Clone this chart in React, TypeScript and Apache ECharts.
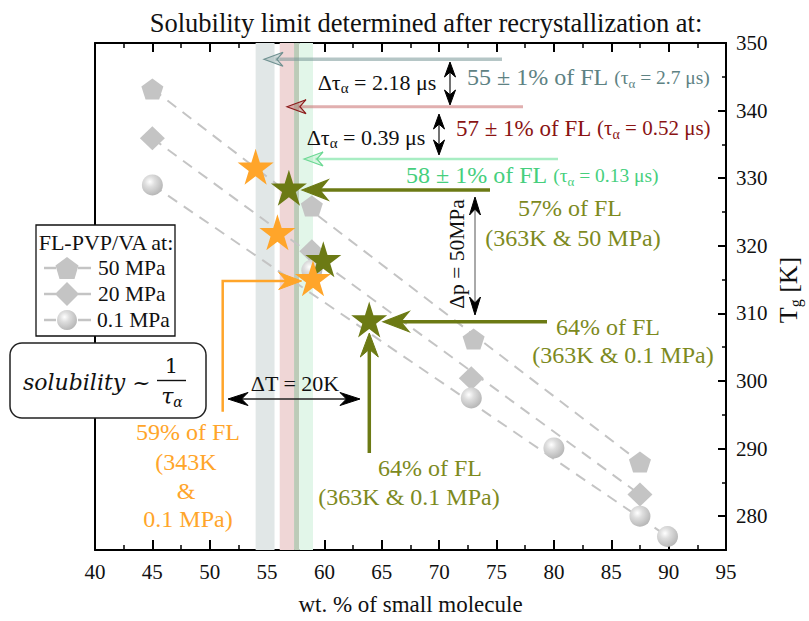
import React, { useEffect, useRef } from 'react';
import * as echarts from 'echarts';

const FONT = 'Liberation Serif, Times New Roman, serif';
const MATH = 'DejaVu Serif, serif';

// ---- data ----
const mpa50 = [[45, 343.2], [58.9, 325.9], [73, 306.2], [87.5, 288.0]];
const mpa20 = [[45, 335.9], [58.9, 319.2], [72.8, 300.4], [87.5, 283.2]];
const mpa01 = [[45, 329.0], [58.9, 316.4], [72.8, 297.5], [80, 290.1], [87.5, 280.0], [89.9, 277.0]];
const fit50 = [[45, 343.2], [87.5, 288.0]];
const fit20 = [[45, 335.9], [87.5, 283.2]];
const fit01 = [[45, 329.0], [89.9, 277.0]];
const orangeStars = [[54.0, 331.7], [55.9, 322.0], [59.0, 315.2]];
const oliveStars = [[56.9, 328.6], [59.9, 318.0], [63.9, 309.1]];
const bandRanges = [[54.0, 55.65], [56.1, 57.35], [57.35, 57.8], [57.8, 59.0]];
const yMajor = [280, 290, 300, 310, 320, 330, 340, 350];
const yMinor = [285, 295, 305, 315, 325, 335, 345];

const bandColors = ['#e1e7e7', '#efd6d6', '#bccbb8', '#e2f6e9'];
const GRAY = '#c4c4c4';
const OLIVE = '#6c7a14';
const OLIVE_T = '#7d8a1e';
const ORANGE = '#ffa52a';

const STAR = 'path://M50,0L61.2,34.5L97.6,34.5L68.2,55.9L79.4,90.5L50,69.1L20.6,90.5L31.8,55.9L2.4,34.5L38.8,34.5Z';
const PENT = 'path://M50,0L100,38L81,100L19,100L0,38Z';
const sphere = (cx = 0.38, cy = 0.35) => ({
  type: 'radial', x: cx, y: cy, r: 0.7,
  colorStops: [
    { offset: 0, color: '#ffffff' },
    { offset: 0.35, color: '#dedede' },
    { offset: 1, color: '#b4b4b4' },
  ],
});

// ---- graphic helpers ----
const Z = 100;
const ln = (x1, y1, x2, y2, stroke, lineWidth) => ({
  type: 'line', z: Z, silent: true, shape: { x1, y1, x2, y2 }, style: { stroke, lineWidth },
});
const head = (tx, ty, dx, dy, L, W, fill, stroke?, lw = 1) => {
  const bx = -dx, by = -dy, px = -dy, py = dx;
  return {
    type: 'polygon', z: Z + 1, silent: true,
    shape: {
      points: [
        [tx, ty],
        [tx + bx * L + (px * W) / 2, ty + by * L + (py * W) / 2],
        [tx + bx * L * 0.68, ty + by * L * 0.68],
        [tx + bx * L - (px * W) / 2, ty + by * L - (py * W) / 2],
      ],
    },
    style: { fill, stroke: stroke || fill, lineWidth: lw },
  };
};
const txt = (x, y, text, fill, size, align = 'center', rotation = 0) => ({
  type: 'text', z: Z + 2, silent: true, x, y, rotation,
  style: { text, fill, font: `${size}px ${FONT}`, align, verticalAlign: 'middle' },
});
const richTxt = (x, y, text, rich, align = 'center', rotation = 0) => ({
  type: 'text', z: Z + 2, silent: true, x, y, rotation,
  style: { text, rich, align, verticalAlign: 'middle' },
});
const tok = (size, fill, lh = 26) => ({ fontSize: size, fontFamily: FONT, fill, lineHeight: lh });
const sub = (size, fill) => ({ fontSize: size, fontFamily: FONT, fill, lineHeight: size, verticalAlign: 'bottom' });

const horizArrowLeft = (tipX, y, tailX, color, w, L, W, hfill, hstroke?) => [
  ln(tipX + L * 0.6, y, tailX, y, color, w),
  head(tipX, y, -1, 0, L, W, hfill, hstroke, 1.2),
];
const doubleV = (x, y1, y2, stem, sw, L, W) => [
  ln(x, y1 + L * 0.6, x, y2 - L * 0.6, stem, sw),
  head(x, y1, 0, -1, L, W, '#000'),
  head(x, y2, 0, 1, L, W, '#000'),
];

function buildGraphic() {
  const g: any[] = [];
  const black = '#111';
  // title
  g.push(txt(426, 23, 'Solubility limit determined after recrystallization at:', black, 26.5));
  // y axis name
  g.push(richTxt(788, 290, '{a|T}{b|g}{a| [K]}', { a: tok(26, black, 30), b: sub(16, black) }, 'center', Math.PI / 2));

  // top arrows
  g.push(...horizArrowLeft(264, 59.3, 502, 'rgba(120,152,152,0.55)', 3.5, 19, 14, 'rgba(150,176,176,0.45)', '#6f9090'));
  g.push(...horizArrowLeft(287, 106.7, 523, 'rgba(200,110,110,0.55)', 3, 19, 14, 'rgba(180,80,80,0.35)', '#8b1a1a'));
  g.push(...horizArrowLeft(304, 159, 558, 'rgba(110,225,155,0.6)', 2.5, 19, 14, 'rgba(140,230,170,0.35)', '#6bd893'));
  // olive arrows
  g.push(...horizArrowLeft(302, 190, 490, OLIVE, 3.5, 26, 20, OLIVE));
  g.push(...horizArrowLeft(383, 321.7, 547, OLIVE, 3.5, 26, 20, OLIVE));
  g.push(ln(369.3, 333 + 14, 369.3, 453, OLIVE, 3.5), head(369.3, 333, 0, -1, 24, 18, OLIVE));
  // orange arrow
  g.push({
    type: 'polyline', z: Z, silent: true,
    shape: { points: [[222.7, 411.7], [222.7, 281], [290, 281]] },
    style: { stroke: ORANGE, lineWidth: 2.5, fill: null },
  });
  g.push(head(301.7, 281, 1, 0, 23, 17, ORANGE));
  // ΔT arrow
  g.push(ln(240, 399, 348, 399, '#222', 1.5), head(228, 399, -1, 0, 20, 13, '#000'), head(360, 399, 1, 0, 20, 13, '#000'));
  // Δp arrow
  g.push(...doubleV(475, 197, 315, '#555', 1, 18, 11));
  // Δτ arrows
  g.push(...doubleV(450, 62, 105, '#444', 1.5, 15, 11));
  g.push(...doubleV(439, 114, 155, '#444', 1.5, 15, 11));

  // annotation texts
  g.push(richTxt(377, 82, '{t|Δτ}{s|α}{t| = 2.18 μs}', { t: tok(22, black), s: sub(15, black) }));
  g.push(richTxt(366, 137, '{t|Δτ}{s|α}{t| = 0.39 μs}', { t: tok(22, black), s: sub(15, black) }));
  const TEAL = '#5e8283', RED = '#8a1313', GREEN = '#46cf7d';
  g.push(richTxt(467, 77, '{m|55 ± 1% of FL }{p|(τ}{s|α}{p| = 2.7 μs)}', { m: tok(24, TEAL), p: tok(19.5, TEAL), s: sub(13, TEAL) }, 'left'));
  g.push(richTxt(456, 128, '{m|57 ± 1% of FL }{p|(τ}{s|α}{p| = 0.52 μs)}', { m: tok(23, RED), p: tok(21, RED), s: sub(14, RED) }, 'left'));
  g.push(richTxt(406, 175, '{m|58 ± 1% of FL }{p|(τ}{s|α}{p| = 0.13 μs)}', { m: tok(24, GREEN), p: tok(19.5, GREEN), s: sub(13, GREEN) }, 'left'));

  g.push(txt(570, 208, '57% of FL', OLIVE_T, 24));
  g.push(txt(573, 238, '(363K & 50 MPa)', OLIVE_T, 24));
  g.push(txt(608, 327, '64% of FL', OLIVE_T, 24));
  g.push(txt(623, 355, '(363K & 0.1 MPa)', OLIVE_T, 24));
  g.push(txt(430, 468, '64% of FL', OLIVE_T, 24));
  g.push(txt(409, 497, '(363K & 0.1 MPa)', OLIVE_T, 24));
  g.push(txt(188, 432, '59% of FL', ORANGE, 24));
  g.push(txt(186, 462, '(343K', ORANGE, 24));
  g.push(txt(186, 491, '&', ORANGE, 24));
  g.push(txt(188, 519, '0.1 MPa)', ORANGE, 24));
  g.push(txt(295, 383, 'ΔT = 20K', black, 22));
  g.push(txt(457, 254, 'Δp = 50MPa', black, 21.5, 'center', Math.PI / 2));

  // legend box
  g.push({ type: 'rect', z: Z, silent: true, shape: { x: 36, y: 225, width: 139, height: 111 }, style: { fill: '#fff', stroke: '#111', lineWidth: 1.3 } });
  g.push(txt(106, 242, 'FL-PVP/VA at:', black, 22));
  const rows = [268, 294, 320];
  rows.forEach((ry) => {
    g.push(ln(44, ry, 56, ry, GRAY, 2.5), ln(78, ry, 91, ry, GRAY, 2.5));
  });
  g.push({ type: 'polygon', z: Z + 1, silent: true, shape: { points: [[67, 257], [78.5, 265.5], [74.5, 279], [59.5, 279], [55.5, 265.5]] }, style: { fill: GRAY } });
  g.push({ type: 'polygon', z: Z + 1, silent: true, shape: { points: [[67, 282], [79, 294], [67, 306], [55, 294]] }, style: { fill: GRAY } });
  g.push({ type: 'circle', z: Z + 1, silent: true, shape: { cx: 67, cy: 320, r: 10 }, style: { fill: sphere() } });
  g.push(txt(98, 268, '50 MPa', black, 21.5, 'left'));
  g.push(txt(98, 294, '20 MPa', black, 21.5, 'left'));
  g.push(txt(97, 320, '0.1 MPa', black, 21.5, 'left'));

  // formula box
  g.push({ type: 'rect', z: Z, silent: true, shape: { x: 10, y: 343, width: 196, height: 75, r: 12 }, style: { fill: '#fff', stroke: '#222', lineWidth: 1.5 } });
  g.push({ type: 'text', z: Z + 2, silent: true, x: 23, y: 382, style: { text: 'solubility ~', fill: black, font: `italic 22px ${MATH}`, align: 'left', verticalAlign: 'middle' } });
  g.push({ type: 'text', z: Z + 2, silent: true, x: 171.5, y: 366, style: { text: '1', fill: black, font: `21px ${MATH}`, align: 'center', verticalAlign: 'middle' } });
  g.push(ln(157, 380.5, 186, 380.5, '#111', 1.4));
  g.push(richTxt(172, 396, '{t|τ}{s|α}', {
    t: { fontSize: 22, fontFamily: MATH, fontStyle: 'italic', fill: black, lineHeight: 26 },
    s: { fontSize: 14, fontFamily: MATH, fontStyle: 'italic', fill: black, lineHeight: 14, verticalAlign: 'bottom' },
  }));
  return g;
}

const axisLineStyle = { color: '#000', width: 2 };

const option = {
  animation: false,
  backgroundColor: '#fff',
  textStyle: { fontFamily: FONT },
  grid: { left: 95, right: 83, top: 43, bottom: 71, containLabel: false },
  xAxis: [
    {
      type: 'value', min: 40, max: 95, interval: 5, position: 'bottom',
      axisLine: { lineStyle: axisLineStyle },
      axisTick: { inside: true, length: 10, lineStyle: { color: '#000', width: 2 } },
      minorTick: { show: true, splitNumber: 2, length: 5, lineStyle: { color: '#000', width: 1.5 } },
      axisLabel: { fontFamily: FONT, fontSize: 21, color: '#111', margin: 11 },
      splitLine: { show: false },
      name: 'wt. % of small molecule', nameLocation: 'middle', nameGap: 43,
      nameTextStyle: { fontFamily: FONT, fontSize: 23, color: '#111' },
    },
    {
      type: 'value', min: 40, max: 95, interval: 5, position: 'top',
      axisLine: { lineStyle: axisLineStyle },
      axisTick: { inside: true, length: 9, lineStyle: { color: '#000', width: 2 } },
      minorTick: { show: true, splitNumber: 2, length: 5, lineStyle: { color: '#000', width: 1.5 } },
      axisLabel: { show: false },
      splitLine: { show: false },
    },
  ],
  yAxis: [
    {
      type: 'value', min: 275, max: 350, position: 'right',
      axisLine: { show: true, lineStyle: axisLineStyle },
      axisTick: { show: true, inside: true, length: 8, customValues: yMajor, lineStyle: { color: '#000', width: 2 } },
      axisLabel: { customValues: yMajor, fontFamily: FONT, fontSize: 21, color: '#111', margin: 10 },
      splitLine: { show: false },
    },
    {
      type: 'value', min: 275, max: 350, position: 'right',
      axisLine: { show: true, lineStyle: axisLineStyle },
      axisTick: { show: true, inside: true, length: 4, customValues: yMinor, lineStyle: { color: '#000', width: 1.5 } },
      axisLabel: { show: false },
      splitLine: { show: false },
    },
    {
      type: 'value', min: 275, max: 350, position: 'left',
      axisLine: { show: true, onZero: false, lineStyle: axisLineStyle },
      axisTick: { show: false },
      axisLabel: { show: false },
      splitLine: { show: false },
    },
  ],
  series: [
    {
      type: 'line', data: [[40, 275]], symbol: 'none', z: 1, silent: true,
      lineStyle: { opacity: 0 },
      markArea: {
        silent: true,
        data: bandRanges.map((r, i) => [
          { xAxis: r[0], itemStyle: { color: bandColors[i], opacity: 1 } },
          { xAxis: r[1] },
        ]),
      },
    },
    ...[fit50, fit20, fit01].map((d) => ({
      type: 'line', data: d, symbol: 'none', z: 2, silent: true,
      lineStyle: { color: GRAY, width: 2, type: [11, 8] },
    })),
    {
      type: 'scatter', data: mpa50, symbol: PENT, symbolSize: [22, 21], z: 3,
      itemStyle: { color: GRAY, opacity: 1 },
    },
    {
      type: 'scatter', data: mpa20, symbol: 'diamond', symbolSize: [25, 24], z: 3,
      itemStyle: { color: GRAY, opacity: 1 },
    },
    {
      type: 'scatter', data: mpa01, symbol: 'circle', symbolSize: 21, z: 3,
      itemStyle: { color: sphere(), opacity: 1 },
    },
    {
      type: 'scatter', data: oliveStars, symbol: STAR, symbolSize: 36, z: 4,
      itemStyle: { color: OLIVE, opacity: 1 },
    },
    {
      type: 'scatter', data: orangeStars, symbol: STAR, symbolSize: 36, z: 5,
      itemStyle: { color: ORANGE, opacity: 1 },
    },
  ],
  graphic: buildGraphic(),
};

export default function App() {
  const ref = useRef<HTMLDivElement>(null);
  useEffect(() => {
    const chart = echarts.init(ref.current!, null, { renderer: 'svg' });
    chart.setOption(option as any);
    return () => chart.dispose();
  }, []);
  return <div ref={ref} style={{ position: 'absolute', left: 0, top: 0, width: 809, height: 621 }} />;
}
